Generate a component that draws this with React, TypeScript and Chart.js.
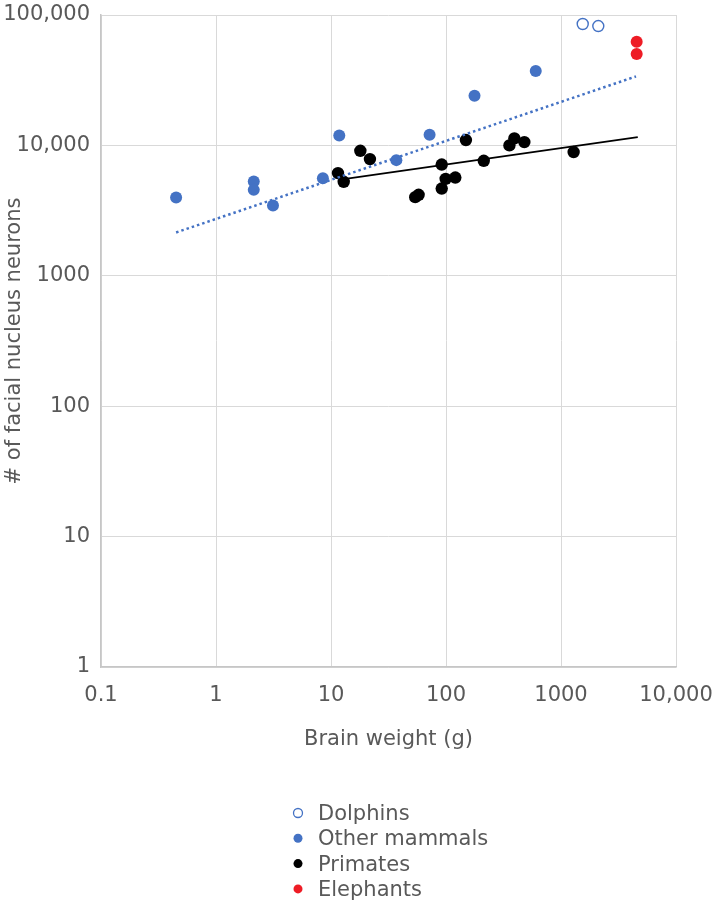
import { useEffect, useRef } from "react";
import { Chart, registerables } from "chart.js";

Chart.register(...registerables);

// values (brain weight in g, facial nucleus neurons)
const DOLPHIN_BRAIN = [1545, 2110];
const DOLPHIN_NEURONS = [85300, 82300];

const MAMMAL_BRAIN = [0.45, 2.13, 2.13, 3.13, 8.5, 11.8, 37, 72, 177, 603];
const MAMMAL_NEURONS = [3980, 5280, 4560, 3460, 5610, 11900, 7710, 12060, 24000, 37200];

const PRIMATE_BRAIN = [11.5, 12.9, 18, 21.8, 54, 57.8, 91.8, 99.3, 91.8, 120.5, 149, 213, 356, 393, 480, 1288];
const PRIMATE_NEURONS = [6130, 5260, 9090, 7850, 4010, 4180, 7130, 5540, 4670, 5670, 10990, 7620, 10000, 11300, 10600, 8890];

const ELEPHANT_BRAIN = [4550, 4550];
const ELEPHANT_NEURONS = [62400, 50200];

// power-law trend lines (straight on log-log), end points
const MAMMAL_TREND_BRAIN = [0.45, 4490];
const MAMMAL_TREND_NEURONS = [2150, 33800];
const PRIMATE_TREND_BRAIN = [12.9, 4650];
const PRIMATE_TREND_NEURONS = [5510, 11580];

const SERIES_LABELS = ["Dolphins", "Other mammals", "Primates", "Elephants"];

const X_TICKS = [0.1, 1, 10, 100, 1000, 10000];
const X_TICK_LABELS = ["0.1", "1", "10", "100", "1000", "10,000"];
const Y_TICKS = [1, 10, 100, 1000, 10000, 100000];
const Y_TICK_LABELS = ["1", "10", "100", "1000", "10,000", "100,000"];

const BLUE = "#4472C4";
const RED = "#EE1C25";
const TEXT = "#595959";
const GRID = "#d9d9d9";
const FONT = '"DejaVu Sans", sans-serif';
const FONT_SIZE = 21;

const toPoints = (xs: number[], ys: number[]) => xs.map((x, i) => ({ x, y: ys[i] }));

// Excel-like legend: one entry per line, under the x axis title
const columnLegend = {
  id: "columnLegend",
  afterDraw(chart: any) {
    const { ctx } = chart;
    ctx.save();
    ctx.font = `${FONT_SIZE}px ${FONT}`;
    ctx.textBaseline = "alphabetic";
    ctx.textAlign = "left";
    chart.data.datasets.slice(0, SERIES_LABELS.length).forEach((ds: any, i: number) => {
      const baseline = 820 + i * 25.3;
      ctx.beginPath();
      ctx.arc(298, baseline - 7, 4.5, 0, Math.PI * 2);
      if (i === 0) {
        ctx.fillStyle = "#fff";
        ctx.fill();
        ctx.lineWidth = 1.3;
        ctx.strokeStyle = ds.borderColor;
        ctx.stroke();
      } else {
        ctx.fillStyle = ds.backgroundColor;
        ctx.fill();
      }
      ctx.fillStyle = TEXT;
      ctx.fillText(ds.label, 318, baseline);
    });
    ctx.restore();
  },
};

function BrainNeuronChart() {
  const canvasRef = useRef<HTMLCanvasElement>(null);

  useEffect(() => {
    const canvas = canvasRef.current;
    if (!canvas) return;
    const chart = new Chart(canvas, {
      type: "scatter",
      data: {
        datasets: [
          {
            label: SERIES_LABELS[0],
            data: toPoints(DOLPHIN_BRAIN, DOLPHIN_NEURONS),
            pointRadius: 5.5,
            borderWidth: 1.4,
            borderColor: BLUE,
            backgroundColor: "rgba(255,255,255,0)",
          },
          {
            label: SERIES_LABELS[1],
            data: toPoints(MAMMAL_BRAIN, MAMMAL_NEURONS),
            pointRadius: 6,
            borderWidth: 0,
            backgroundColor: BLUE,
          },
          {
            label: SERIES_LABELS[2],
            data: toPoints(PRIMATE_BRAIN, PRIMATE_NEURONS),
            pointRadius: 6.2,
            borderWidth: 0,
            backgroundColor: "#000",
          },
          {
            label: SERIES_LABELS[3],
            data: toPoints(ELEPHANT_BRAIN, ELEPHANT_NEURONS),
            pointRadius: 6,
            borderWidth: 0,
            backgroundColor: RED,
          },
          {
            label: "Other mammals trend",
            data: toPoints(MAMMAL_TREND_BRAIN, MAMMAL_TREND_NEURONS),
            showLine: true,
            pointRadius: 0,
            borderColor: BLUE,
            borderWidth: 2.5,
            borderDash: [2.5, 3],
            order: -1,
          },
          {
            label: "Primates trend",
            data: toPoints(PRIMATE_TREND_BRAIN, PRIMATE_TREND_NEURONS),
            showLine: true,
            pointRadius: 0,
            borderColor: "#000",
            borderWidth: 1.8,
            order: -1,
          },
        ],
      },
      options: {
        animation: false,
        responsive: true,
        maintainAspectRatio: false,
        events: [],
        layout: { padding: { top: 15, right: 44, bottom: 154, left: 0 } },
        plugins: {
          legend: { display: false },
          tooltip: { enabled: false },
        },
        scales: {
          x: {
            type: "logarithmic",
            min: 0.1,
            max: 10000,
            afterBuildTicks: (scale: any) => {
              scale.ticks = X_TICKS.map((value) => ({ value }));
            },
            afterFit: (scale: any) => {
              scale.height = 85;
              scale.paddingLeft = 0;
              scale.paddingRight = 0;
            },
            ticks: {
              padding: 16,
              color: TEXT,
              font: { family: FONT, size: FONT_SIZE },
              maxRotation: 0,
              callback: (value: any) => X_TICK_LABELS[X_TICKS.indexOf(Number(value))],
            },
            grid: { color: GRID, lineWidth: 1, drawTicks: false },
            border: { color: "#c6c6c6", width: 1.5 },
            title: {
              display: true,
              text: "Brain weight (g)",
              color: TEXT,
              font: { family: FONT, size: FONT_SIZE },
              padding: { top: 0, bottom: 0 },
            },
          },
          y: {
            type: "logarithmic",
            min: 1,
            max: 100000,
            afterBuildTicks: (scale: any) => {
              scale.ticks = Y_TICKS.map((value) => ({ value }));
            },
            afterFit: (scale: any) => {
              scale.width = 101;
              scale.paddingTop = 0;
              scale.paddingBottom = 0;
            },
            ticks: {
              padding: 11,
              color: TEXT,
              font: { family: FONT, size: FONT_SIZE },
              callback: (value: any) => Y_TICK_LABELS[Y_TICKS.indexOf(Number(value))],
            },
            grid: { color: GRID, lineWidth: 1, drawTicks: false },
            border: { color: "#c6c6c6", width: 1.5 },
            title: {
              display: true,
              text: "# of facial nucleus neurons",
              color: TEXT,
              font: { family: FONT, size: FONT_SIZE },
              padding: { top: 2, bottom: 0 },
            },
          },
        },
      },
      plugins: [columnLegend],
    });
    return () => chart.destroy();
  }, []);

  return (
    <div style={{ position: "absolute", left: 0, top: 0, width: 720, height: 906, background: "#fff" }}>
      <canvas ref={canvasRef}></canvas>
    </div>
  );
}

export default function App() {
  return <BrainNeuronChart />;
}
